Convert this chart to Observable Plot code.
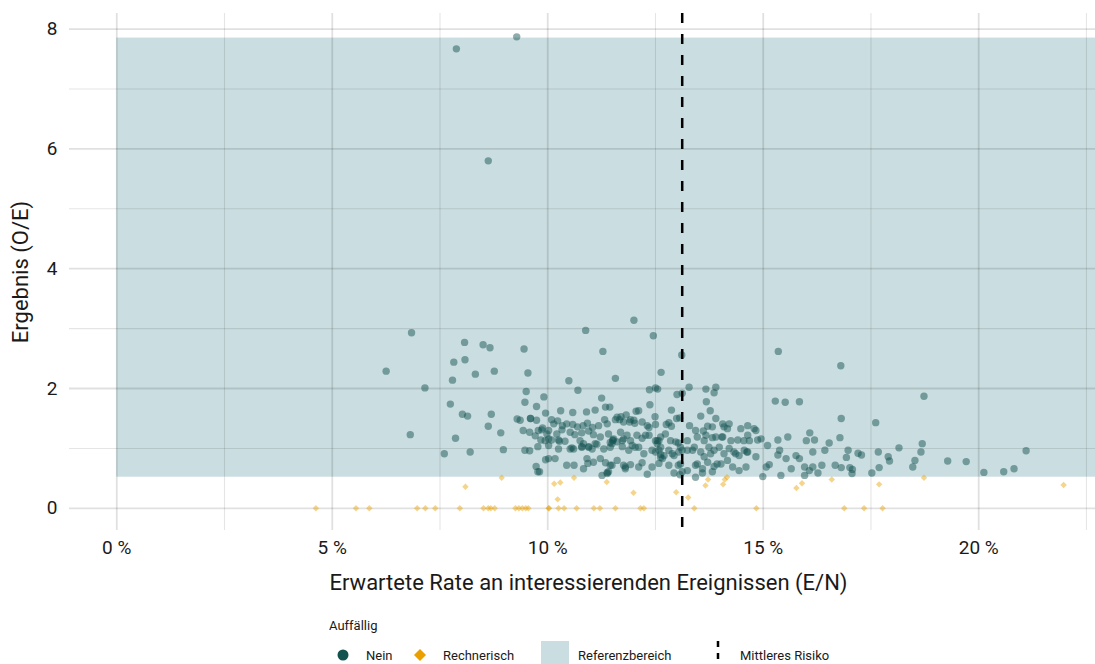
<!DOCTYPE html>
<html>
<head>
<meta charset="utf-8">
<script src="https://cdn.jsdelivr.net/npm/d3@7"></script>
<script src="https://cdn.jsdelivr.net/npm/@observablehq/plot@0.6"></script>
<style>
  html, body { margin: 0; padding: 0; background: #fff; }
  #wrap { position: relative; width: 1095px; height: 664px; overflow: hidden; font-family: Roboto, "Noto Sans", sans-serif; color: #1a1a1a; }
  #chart { position: absolute; left: 0; top: 0; }
  .lg { position: absolute; font-size: 13px; line-height: 1; white-space: nowrap; }
</style>
</head>
<body>
<div id="wrap">
  <div id="chart"></div>
  <div id="legend"></div>
</div>
<script>
// ---------- data ----------
const xTicks = [0, 5, 10, 15, 20];
const xMinor = [2.5, 7.5, 12.5, 17.5, 22.5];
const yTicks = [0, 2, 4, 6, 8];
const yMinor = [1, 3, 5, 7];
const xTitle = "Erwartete Rate an interessierenden Ereignissen (E/N)";
const yTitle = "Ergebnis (O/E)";
const refLow = 0.52, refHigh = 7.85, refStart = 0;
const meanRisk = 13.12;
const legendTitle = "Auffällig";
const legendLabels = ["Nein", "Rechnerisch", "Referenzbereich", "Mittleres Risiko"];

// Auffällig = Nein  [E/N in %, O/E]
const neinPoints = [
[9.28,7.87],[7.88,7.67],[8.62,5.80],[6.84,2.93],[6.25,2.29],[7.15,2.01],[6.81,1.23],
[8.07,2.77],[8.50,2.73],[8.66,2.68],[7.82,2.44],[8.08,2.48],[9.45,2.66],[7.79,2.14],[8.32,2.24],
[8.76,2.29],[9.54,2.26],[9.50,1.95],[9.47,1.77],[9.91,1.86],[9.74,1.70],[9.95,1.59],[7.74,1.74],
[8.02,1.57],[8.14,1.54],[8.69,1.57],[8.62,1.37],[8.91,1.26],[7.86,1.17],[7.60,0.91],[8.20,0.94],
[8.97,0.98],[9.29,1.49],[9.36,1.47],[9.60,1.50],[9.60,1.50],[9.74,1.47],[9.43,1.30],[9.58,1.27],
[9.71,1.21],[9.78,1.30],[9.88,1.34],[9.98,1.24],[10.09,1.48],[10.14,1.41],[10.30,1.63],[9.84,1.14],
[10.02,1.16],[10.09,1.14],[9.47,0.97],[9.58,0.96],[9.77,1.03],[10.02,1.05],[9.95,0.81],[10.17,0.83],
[9.73,0.70],[9.77,0.61],[9.81,0.61],[10.27,1.12],[10.25,0.99],
[12.00,3.14],[10.88,2.97],[12.45,2.88],[11.28,2.62],[13.11,2.56],[12.63,2.27],[10.49,2.13],[11.57,2.17],
[10.70,1.97],[12.36,1.98],[12.50,2.01],[12.55,1.99],[13.00,1.90],[13.12,1.92],[13.28,2.02],[13.67,1.99],
[13.86,1.93],[13.90,2.02],[11.25,1.84],[12.37,1.73],[13.68,1.78],[12.87,1.64],[12.99,1.50],[13.77,1.63],
[13.55,1.54],[10.58,1.60],[10.90,1.61],[11.10,1.64],[11.34,1.69],[11.44,1.69],[11.61,1.52],[11.70,1.53],
[11.82,1.56],[12.05,1.62],[12.11,1.63],[12.02,1.42],[11.92,1.48],[12.49,1.53],[12.81,1.43],[12.75,1.40],
[13.29,1.38],[13.43,1.30],[13.90,1.50],[13.82,1.36],[14.06,1.41],[14.09,1.36],[13.67,1.22],[13.47,1.19],
[13.90,1.19],[14.06,1.19],
[11.67,1.48],[10.23,1.46],[10.34,1.38],[10.44,1.41],[10.58,1.40],[10.69,1.36],[10.82,1.38],[10.92,1.42],
[11.04,1.35],[11.18,1.38],[11.32,1.48],[11.38,1.41],[11.57,1.48],[11.76,1.44],[11.90,1.44],[12.00,1.47],
[12.19,1.44],[12.31,1.38],[12.35,1.35],[12.50,1.40],[12.87,1.37],[13.06,1.51],[9.86,1.31],[10.02,1.30],
[10.21,1.24],[10.33,1.31],[10.52,1.27],[10.63,1.23],[10.79,1.26],[10.95,1.29],[11.06,1.23],[11.22,1.19],
[11.41,1.24],[11.53,1.16],[11.69,1.27],[11.84,1.22],[11.92,1.13],[12.07,1.22],[12.19,1.17],[12.35,1.22],
[12.50,1.13],[12.62,1.19],[12.73,1.24],[12.85,1.13],[12.97,1.11],[9.94,1.13],[10.25,1.14],[10.40,1.12],
[10.52,0.99],[10.60,0.99],[10.75,1.13],[10.83,1.08],[10.95,1.03],[11.03,0.99],[11.14,1.07],[11.30,0.99],
[11.45,1.02],[11.51,1.13],[11.61,1.11],[11.73,1.03],[11.88,0.97],[11.96,1.05],[12.11,1.02],[12.23,0.91],
[12.42,0.97],[12.54,1.08],[12.62,1.02],[12.70,0.88],[12.81,0.97],[12.93,0.88],[13.04,0.94],[13.03,1.09],
[10.44,0.72],[10.61,0.72],[10.83,0.66],[10.91,0.83],[11.06,0.77],[11.22,0.83],[11.34,0.76],[11.41,0.61],
[11.49,0.72],[11.61,0.80],[11.76,0.72],[11.80,0.66],[11.92,0.73],[12.11,0.69],[12.19,0.76],[12.31,0.57],
[12.42,0.69],[12.58,0.75],[12.66,0.83],[12.81,0.72],[12.93,0.59],[13.03,0.72],[13.12,0.61],[11.38,0.58],
[10.93,0.75],[11.26,0.55],[11.38,0.60],[13.07,0.56],[13.43,0.52],[13.59,0.59],[13.82,0.61],
[15.35,2.62],[15.28,1.79],[15.51,1.77],[15.84,1.78],[13.71,1.37],[13.61,1.29],[14.17,1.33],[14.21,1.41],
[14.48,1.33],[14.64,1.38],[14.79,1.33],[14.83,1.30],[13.63,1.13],[13.82,1.18],[14.25,1.13],[14.41,1.14],
[14.64,1.22],[14.68,1.13],[14.87,1.14],[14.95,1.16],[15.10,1.05],[15.34,1.14],[15.57,1.19],[16.00,1.13],
[16.08,1.26],[16.19,1.14],[16.15,0.94],[16.43,0.97],[13.08,1.02],[13.24,0.97],[13.40,1.02],[13.55,0.94],
[13.74,1.02],[13.86,0.97],[13.98,1.02],[14.09,0.91],[14.21,1.00],[14.32,0.94],[14.44,0.88],[14.56,0.97],
[14.62,0.94],[14.83,0.86],[15.07,0.69],[15.14,0.73],[15.34,0.89],[15.38,0.97],[15.53,0.83],[15.65,0.66],
[15.76,0.88],[15.84,0.83],[15.96,0.69],[16.07,0.63],[16.15,0.69],[16.27,0.59],[16.36,0.72],[13.08,0.74],
[13.24,0.63],[13.43,0.72],[13.59,0.66],[13.71,0.77],[13.86,0.70],[14.02,0.74],[14.29,0.69],[14.44,0.63],
[14.60,0.69],[14.99,0.53],[15.41,0.55],
[18.73,1.87],[16.81,1.50],[17.61,1.43],[16.53,1.09],[16.78,1.18],[16.97,0.97],[17.20,0.92],[17.28,0.89],
[17.67,0.94],[18.15,1.01],[18.69,1.08],[18.66,0.94],[16.93,0.85],[17.90,0.86],[17.93,0.79],[18.52,0.80],
[18.47,0.69],[19.28,0.79],[19.71,0.78],[21.10,0.96],[16.67,0.72],[16.81,0.68],[17.01,0.68],[17.07,0.65],
[17.06,0.58],[17.52,0.59],[17.69,0.68],[20.12,0.60],[20.58,0.61],[20.82,0.66],[15.96,0.55],[16.80,2.38],
[10.56,1.01],[10.95,1.02],[11.45,1.10],[11.51,1.14],[11.80,0.69],[11.76,1.16],[12.58,0.97],[12.62,0.90],
[12.54,1.13],[11.45,0.72],[10.79,1.03],[10.02,0.83],[14.36,0.91],[14.04,1.19],[13.93,0.74],[13.47,0.74],
[13.36,0.97],[14.64,0.94],[13.63,0.86],[13.78,0.91],[14.17,0.80],[14.55,1.13],[13.24,1.13],[13.12,0.97],
[11.49,1.08],[11.73,1.13],[12.58,1.13],[12.50,0.94],[12.62,0.85],[12.89,0.91],[12.27,1.22],[12.03,1.02],
[10.79,1.02],[11.10,1.08]
];

// Auffällig = Rechnerisch  [E/N in %, O/E]
const rechnerischPoints = [
[4.62,0],[5.55,0],[5.86,0],[6.97,0],[7.16,0],[7.39,0],[7.96,0],[8.51,0],[8.62,0],[8.68,0],[8.77,0],
[9.25,0],[9.33,0],[9.41,0],[9.49,0],[9.55,0],[10.02,0],[10.03,0],[10.25,0],[10.38,0],[10.67,0],[11.07,0],
[11.21,0],[11.57,0],[12.15,0],[12.23,0],[13.40,0],[14.84,0],[16.88,0],[17.34,0],[17.77,0],
[8.93,0.51],[8.09,0.36],[10.15,0.41],[10.29,0.43],[10.23,0.15],[10.61,0.51],[11.37,0.44],[11.99,0.26],
[12.98,0.27],[13.26,0.18],[13.66,0.38],[13.72,0.48],[14.07,0.40],[14.11,0.48],[14.16,0.52],[15.77,0.34],
[15.90,0.42],[16.59,0.48],[17.69,0.40],[18.73,0.51],[21.97,0.39]
];

// ---------- styles ----------
const xDomain = [-1.097, 22.71];
const yDomain = [-0.37, 8.26];
const neinColor = "#12524f";
const rechColor = "#e9a000";
const bandColor = "#cadde0";
const textColor = "#1a1a1a";

const chart = Plot.plot({
  width: 1095,
  height: 600,
  marginLeft: 69,
  marginRight: 0,
  marginTop: 13,
  marginBottom: 70,
  x: {domain: xDomain},
  y: {domain: yDomain},
  style: {fontFamily: "Roboto, 'Noto Sans', sans-serif", fontSize: "19px", color: textColor, background: "#fff"},
  marks: [
    Plot.rect([{x1: refStart, x2: xDomain[1], y1: refLow, y2: refHigh}], {
      x1: "x1", x2: "x2", y1: "y1", y2: "y2", fill: bandColor
    }),
    Plot.ruleX(xMinor, {stroke: "#000", strokeOpacity: 0.1, strokeWidth: 1.1}),
    Plot.ruleY(yMinor, {stroke: "#000", strokeOpacity: 0.1, strokeWidth: 1.1}),
    Plot.ruleX(xTicks, {stroke: "#000", strokeOpacity: 0.12, strokeWidth: 1.8}),
    Plot.ruleY(yTicks, {stroke: "#000", strokeOpacity: 0.12, strokeWidth: 1.8}),
    Plot.axisX(xTicks, {tickSize: 0, tickPadding: 10, tickFormat: d => d + " %", label: null, fontSize: 19, fill: textColor}),
    Plot.axisY(yTicks, {tickSize: 0, tickPadding: 12, tickFormat: d => String(d), label: null, fontSize: 19, fill: textColor}),
    Plot.dot(rechnerischPoints, {x: d => d[0], y: d => d[1], symbol: "diamond2", r: 2.9, fill: rechColor, fillOpacity: 0.45, stroke: "none"}),
    Plot.dot(neinPoints, {x: d => d[0], y: d => d[1], r: 3.7, fill: neinColor, fillOpacity: 0.48, stroke: "none"}),
    Plot.ruleX([meanRisk], {stroke: "#000", strokeWidth: 2.5, strokeDasharray: "10,11"}),
    Plot.text([yTitle], {text: d => d, frameAnchor: "left", dx: -49, rotate: -90, textAnchor: "middle", lineAnchor: "middle", fontSize: 22, fill: textColor}),
    Plot.text([xTitle], {text: d => d, frameAnchor: "bottom", dy: 52, textAnchor: "middle", lineAnchor: "middle", fontSize: 22, fill: textColor, dx: 6})
  ]
});
document.getElementById("chart").appendChild(chart);

// ---------- legend ----------
const lg = document.getElementById("legend");
lg.innerHTML = `
  <div class="lg" style="left:329px; top:619px;">${legendTitle}</div>
  <svg style="position:absolute; left:0; top:636px;" width="1095" height="28">
    <circle cx="343" cy="19" r="5.5" fill="${neinColor}"></circle>
    <path d="M420,13 L426,19 L420,25 L414,19 Z" fill="${rechColor}"></path>
    <rect x="541" y="5" width="28" height="28" fill="${bandColor}"></rect>
    <line x1="718" y1="5" x2="718" y2="33" stroke="#000" stroke-width="2.5" stroke-dasharray="6,6"></line>
  </svg>
  <div class="lg" style="left:366px; top:649px;">${legendLabels[0]}</div>
  <div class="lg" style="left:443px; top:649px;">${legendLabels[1]}</div>
  <div class="lg" style="left:578px; top:649px;">${legendLabels[2]}</div>
  <div class="lg" style="left:740px; top:649px;">${legendLabels[3]}</div>
`;
</script>
</body>
</html>
